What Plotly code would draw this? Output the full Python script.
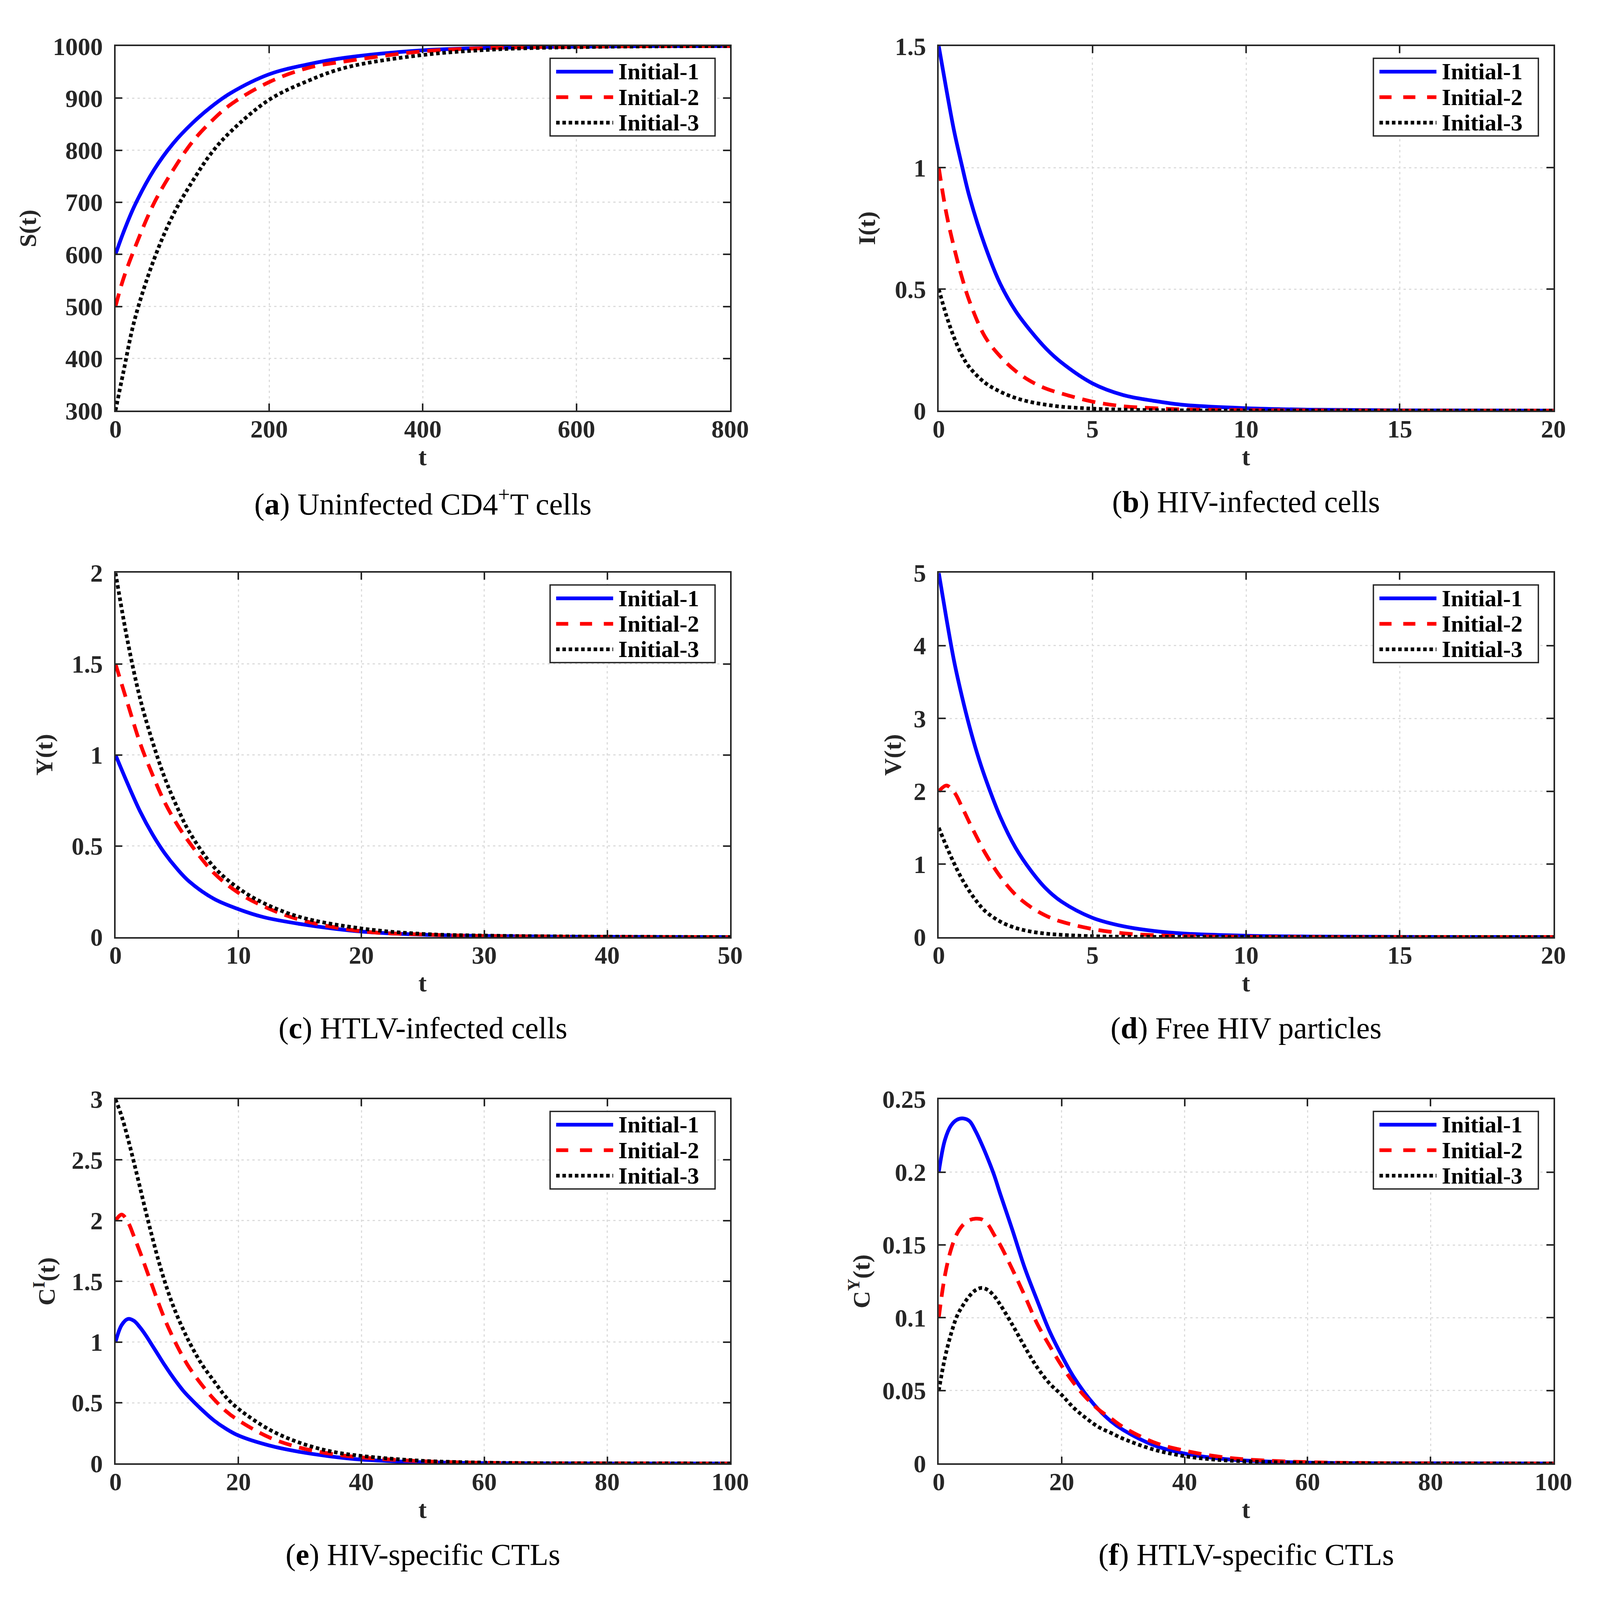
#Plotly importing to be able to graph
import plotly.graph_objects as go

#Series names
names = ["Initial-1", "Initial-2", "Initial-3"]

#(a) Uninfected CD4+T cells
t_a = [0, 10, 25, 50, 75, 100, 125, 150, 200, 250, 300, 400, 500, 600, 700, 800]
s_1 = [600, 641, 694, 762, 813, 852, 884, 910, 946, 965, 978, 992, 997, 999, 1000, 1000]
s_2 = [500, 552, 612, 698, 762, 816, 856, 888, 931, 958, 971, 990, 997, 999, 1000, 1000]
s_3 = [300, 372, 475, 590, 676, 740, 795, 836, 897, 933, 959, 983, 994, 998, 999.5, 1000]

#(b) HIV-infected cells
t_b = [0, 0.25, 0.5, 0.75, 1, 1.5, 2, 2.5, 3, 3.5, 4, 5, 6, 7, 8, 10, 12, 15, 20]
i_1 = [1.5, 1.32, 1.15, 1.01, 0.88, 0.68, 0.522, 0.41, 0.326, 0.254, 0.197, 0.112, 0.064, 0.04, 0.023, 0.01, 0.004, 0.001, 0]
i_2 = [1.0, 0.81, 0.67, 0.55, 0.45, 0.305, 0.223, 0.163, 0.12, 0.09, 0.07, 0.037, 0.018, 0.01, 0.005, 0.002, 0.001, 0, 0]
i_3 = [0.5, 0.39, 0.30, 0.228, 0.178, 0.115, 0.078, 0.052, 0.035, 0.024, 0.016, 0.008, 0.004, 0.002, 0.001, 0, 0, 0, 0]

#(c) HTLV-infected cells
t_c = [0, 1, 2, 3, 4, 5, 6, 8, 10, 12, 15, 20, 25, 30, 40, 50]
y_1 = [1, 0.84, 0.69, 0.565, 0.46, 0.375, 0.305, 0.21, 0.153, 0.11, 0.072, 0.03, 0.013, 0.006, 0.001, 0]
y_2 = [1.5, 1.28, 1.065, 0.893, 0.74, 0.62, 0.52, 0.352, 0.243, 0.17, 0.095, 0.032, 0.014, 0.006, 0.001, 0]
y_3 = [2, 1.62, 1.31, 1.075, 0.875, 0.715, 0.578, 0.385, 0.268, 0.188, 0.11, 0.047, 0.017, 0.008, 0.002, 0]

#(d) Free HIV particles
t_d = [0, 0.25, 0.5, 0.75, 1, 1.25, 1.5, 2, 2.5, 3, 3.5, 4, 5, 6, 7, 8, 10, 12, 15, 20]
v_1 = [5, 4.37, 3.785, 3.31, 2.89, 2.52, 2.2, 1.65, 1.225, 0.91, 0.66, 0.485, 0.264, 0.148, 0.083, 0.047, 0.018, 0.007, 0.002, 0]
v_2 = [2.0, 2.08, 1.99, 1.79, 1.57, 1.36, 1.16, 0.83, 0.58, 0.41, 0.29, 0.21, 0.11, 0.052, 0.025, 0.012, 0.003, 0.001, 0, 0]
v_3 = [1.5, 1.245, 1.01, 0.80, 0.627, 0.48, 0.36, 0.212, 0.125, 0.075, 0.046, 0.03, 0.011, 0.004, 0.002, 0.001, 0, 0, 0, 0]

#(e) HIV-specific CTLs
t_e = [0, 1, 2, 3, 4, 5, 6, 7, 8, 9, 10, 11, 12, 14, 16, 18, 20, 25, 30, 35, 40, 50, 60, 70, 80, 100]
e_1 = [1.0, 1.14, 1.19, 1.175, 1.12, 1.05, 0.97, 0.89, 0.81, 0.735, 0.665, 0.6, 0.545, 0.445, 0.355, 0.285, 0.23, 0.148, 0.095, 0.058, 0.032, 0.01, 0.003, 0.001, 0, 0]
e_2 = [2.0, 2.05, 1.99, 1.87, 1.74, 1.6, 1.46, 1.32, 1.19, 1.075, 0.97, 0.875, 0.79, 0.65, 0.53, 0.43, 0.355, 0.215, 0.13, 0.08, 0.05, 0.018, 0.006, 0.002, 0.001, 0]
e_3 = [3.0, 2.86, 2.68, 2.48, 2.27, 2.06, 1.86, 1.67, 1.5, 1.35, 1.22, 1.105, 1.0, 0.82, 0.68, 0.545, 0.45, 0.28, 0.17, 0.1, 0.062, 0.022, 0.007, 0.002, 0.001, 0]

#(f) HTLV-specific CTLs
t_f = [0, 1, 2, 3, 4, 5, 6, 7, 8, 9, 10, 12, 14, 16, 18, 20, 22, 24, 26, 28, 30, 35, 40, 45, 50, 60, 70, 80, 100]
f_1 = [0.2, 0.222, 0.232, 0.236, 0.2368, 0.235, 0.228, 0.219, 0.209, 0.198, 0.185, 0.16, 0.134, 0.112, 0.091, 0.074, 0.059, 0.047, 0.037, 0.029, 0.023, 0.0125, 0.0068, 0.0037, 0.002, 0.0006, 0.0002, 0.0001, 0]
f_2 = [0.1, 0.129, 0.147, 0.158, 0.164, 0.167, 0.168, 0.1675, 0.164, 0.157, 0.15, 0.133, 0.115, 0.096, 0.081, 0.067, 0.055, 0.045, 0.037, 0.031, 0.025, 0.0145, 0.0088, 0.005, 0.0028, 0.0009, 0.0003, 0.0001, 0]
f_3 = [0.05, 0.0725, 0.089, 0.1015, 0.109, 0.115, 0.119, 0.1205, 0.119, 0.115, 0.109, 0.095, 0.08, 0.066, 0.055, 0.047, 0.038, 0.031, 0.025, 0.021, 0.017, 0.0095, 0.005, 0.0026, 0.0014, 0.0004, 0.0001, 0, 0]

#Tick labels
xt_a = [0, 200, 400, 600, 800]
yt_a = [300, 400, 500, 600, 700, 800, 900, 1000]
xt_b = [0, 5, 10, 15, 20]
yt_b = [0, 0.5, 1, 1.5]
xt_c = [0, 10, 20, 30, 40, 50]
yt_c = [0, 0.5, 1, 1.5, 2]
yt_d = [0, 1, 2, 3, 4, 5]
xt_e = [0, 20, 40, 60, 80, 100]
yt_e = [0, 0.5, 1, 1.5, 2, 2.5, 3]
yt_f = [0, 0.05, 0.1, 0.15, 0.2, 0.25]
yl_f = ["0", "0.05", "0.1", "0.15", "0.2", "0.25"]

#Axis titles and captions
ytitles = ["S(t)", "I(t)", "Y(t)", "V(t)", "C<sup>I</sup>(t)", "C<sup>Y</sup>(t)"]
captions = ["(<b>a</b>) Uninfected CD4<sup>+</sup>T cells", "(<b>b</b>) HIV-infected cells",
            "(<b>c</b>) HTLV-infected cells", "(<b>d</b>) Free HIV particles",
            "(<b>e</b>) HIV-specific CTLs", "(<b>f</b>) HTLV-specific CTLs"]

panels = [
  dict(t=t_a, ys=[s_1, s_2, s_3], xr=[0, 800], yr=[300, 1000], xt=xt_a, yt=yt_a, yl=None, off=232),
  dict(t=t_b, ys=[i_1, i_2, i_3], xr=[0, 20], yr=[0, 1.5], xt=xt_b, yt=yt_b, yl=None, off=190),
  dict(t=t_c, ys=[y_1, y_2, y_3], xr=[0, 50], yr=[0, 2], xt=xt_c, yt=yt_c, yl=None, off=188),
  dict(t=t_d, ys=[v_1, v_2, v_3], xr=[0, 20], yr=[0, 5], xt=xt_b, yt=yt_d, yl=None, off=122),
  dict(t=t_e, ys=[e_1, e_2, e_3], xr=[0, 100], yr=[0, 3], xt=xt_e, yt=yt_e, yl=None, off=188),
  dict(t=t_f, ys=[f_1, f_2, f_3], xr=[0, 100], yr=[0, 0.25], xt=xt_e, yt=yt_f, yl=yl_f, off=210),
]

xdoms = [[0.07051, 0.45618], [0.58707, 0.97276]]
ydoms = [[0.74433, 0.97301], [0.41402, 0.64254], [0.08371, 0.31225]]
cap_y = [0.6872, 0.3569, 0.0266]
pw, ph = 1628.3, 957.5  #plot size in px

styles = [dict(color="#0000ff", width=9.5, dash="solid"),
          dict(color="#ff0000", width=9.5, dash="34px,20px"),
          dict(color="#000000", width=9.5, dash="9px,7px")]
#legend samples use the wider red pattern seen in the original legend
legstyles = [styles[0], dict(color="#ff0000", width=9.5, dash="31px,30px"), styles[2]]

axcol = "#262626"
serif = "Liberation Serif"
tickfont = dict(family=serif, size=64, color=axcol, weight="bold")

fig = go.Figure()
shapes = []
annotations = []
layout = {}

for k, p in enumerate(panels):
  r, c = k // 2, k % 2
  sx = "" if k == 0 else str(k + 1)
  xname, yname = "x" + sx, "y" + sx
  for j in range(3):
    fig.add_trace(go.Scatter(x=p["t"], y=p["ys"][j], mode="lines", name=names[j], showlegend=False,
                             xaxis=xname, yaxis=yname,
                             line=dict(styles[j], shape="spline", smoothing=1.0)))
  common = dict(showline=True, linecolor=axcol, linewidth=3.5, mirror="allticks", ticks="inside",
                ticklen=18, tickwidth=3.5, tickcolor=axcol, showgrid=True, gridcolor="#dcdcdc",
                gridwidth=3, griddash="6px,8px", zeroline=False, tickfont=tickfont, fixedrange=True,
                automargin=False)
  layout["xaxis" + sx] = dict(common, domain=xdoms[c], range=p["xr"], anchor=yname,
                              tickvals=p["xt"], ticktext=[str(v) for v in p["xt"]], ticklabelstandoff=-12)
  layout["yaxis" + sx] = dict(common, domain=ydoms[r], range=p["yr"], anchor=xname,
                              tickvals=p["yt"], ticktext=p["yl"] if p["yl"] else [f"{v:g}" for v in p["yt"]],
                              ticklabelstandoff=16)

  xd, yd = xname + " domain", yname + " domain"
  #axis titles
  annotations.append(dict(text="<b>t</b>", xref=xd, yref=yd, x=0.5, y=-121 / ph, showarrow=False,
                          font=dict(family=serif, size=64, color=axcol), xanchor="center", yanchor="middle"))
  annotations.append(dict(text="<b>" + ytitles[k] + "</b>", xref=xd, yref=yd, x=-p["off"] / pw, y=0.5,
                          showarrow=False, textangle=-90, font=dict(family=serif, size=62, color=axcol),
                          xanchor="center", yanchor="middle"))
  #caption
  annotations.append(dict(text=captions[k], xref="paper", yref="paper", x=sum(xdoms[c]) / 2, y=cap_y[r],
                          showarrow=False, font=dict(family=serif, size=78, color="black"),
                          xanchor="center", yanchor="middle"))

  #legend box drawn by hand so the line samples are long like the original
  lx1 = 1 - 40 / pw
  lx0 = lx1 - 437 / pw
  ly1 = 1 - 32 / ph
  ly0 = ly1 - 204 / ph
  shapes.append(dict(type="rect", xref=xd, yref=yd, x0=lx0, x1=lx1, y0=ly0, y1=ly1,
                     line=dict(color=axcol, width=3.5), fillcolor="white", layer="above"))
  for j, dy in enumerate([35, 102, 169]):
    yy = ly1 - dy / ph
    shapes.append(dict(type="line", xref=xd, yref=yd, x0=lx0 + 16 / pw, x1=lx0 + 167 / pw, y0=yy, y1=yy,
                       line=legstyles[j], layer="above"))
    annotations.append(dict(text="<b>" + names[j] + "</b>", xref=xd, yref=yd, x=lx0 + 180 / pw, y=yy,
                            showarrow=False, xanchor="left", yanchor="middle", borderpad=0,
                            font=dict(family=serif, size=60, color="black")))

fig.update_layout(layout)
fig.update_layout(autosize=True, margin=dict(l=0, r=0, t=0, b=0),
                  paper_bgcolor="white", plot_bgcolor="white",
                  shapes=shapes, annotations=annotations, showlegend=False)

fig.write_html("out.html")
